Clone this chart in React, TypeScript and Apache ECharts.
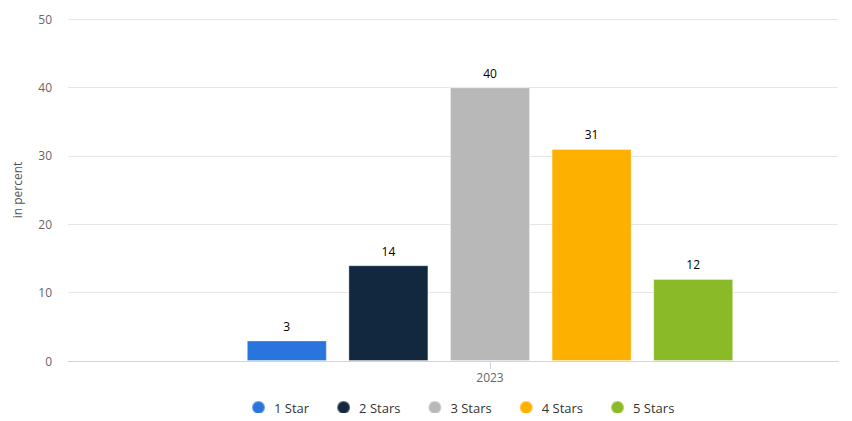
import React, { useEffect, useRef } from "react";
import * as echarts from "echarts";

const categories = ["2023"];
const seriesNames = ["1 Star", "2 Stars", "3 Stars", "4 Stars", "5 Stars"];
const seriesValues = [[3], [14], [40], [31], [12]];
const seriesColors = ["#2876dd", "#12283f", "#b8b8b8", "#feb000", "#8aba27"];
const yTicks = { min: 0, max: 50, interval: 10 };
const yAxisName = "in percent";

const FONT = "'Open Sans', 'Noto Sans', sans-serif";

export default function App() {
  const ref = useRef<HTMLDivElement>(null);
  useEffect(() => {
    if (!ref.current) return;
    const chart = echarts.init(ref.current, null, { renderer: "svg" });
    chart.setOption({
      animation: false,
      textStyle: { fontFamily: FONT },
      grid: [
        { left: 68, right: 14, top: 19, bottom: 60 },
        { left: 142, right: 14, top: 19, bottom: 60 },
      ],
      legend: {
        data: seriesNames,
        left: 246,
        bottom: 1,
        icon: "circle",
        itemWidth: 13,
        itemHeight: 13,
        itemGap: 27,
        textStyle: { fontFamily: FONT, fontSize: 13, color: "#333", padding: [0, 0, 0, 4] },
      },
      xAxis: [
        {
          type: "category",
          gridIndex: 0,
          data: categories,
          axisLine: { show: true, lineStyle: { color: "#ccd6eb" } },
          axisTick: { show: false },
          axisLabel: { show: false },
        },
        {
          type: "category",
          gridIndex: 1,
          data: categories,
          axisLine: { show: false },
          axisTick: { show: true, alignWithLabel: true, length: 8, lineStyle: { color: "#ccd6eb" } },
          axisLabel: { color: "#666", fontSize: 12, fontFamily: FONT, margin: 10 },
        },
      ],
      yAxis: [
        {
          type: "value",
          gridIndex: 0,
          min: yTicks.min,
          max: yTicks.max,
          interval: yTicks.interval,
          name: yAxisName,
          nameLocation: "middle",
          nameGap: 45,
          nameTextStyle: { color: "#555", fontSize: 12, fontFamily: FONT },
          axisLine: { show: false },
          axisTick: { show: false },
          axisLabel: { color: "#666", fontSize: 12, fontFamily: FONT, margin: 16 },
          splitLine: { lineStyle: { color: "#e6e6e6" } },
        },
        {
          type: "value",
          gridIndex: 1,
          min: yTicks.min,
          max: yTicks.max,
          interval: yTicks.interval,
          show: false,
          splitLine: { show: false },
        },
      ],
      series: seriesNames.map((name, i) => ({
        name,
        type: "bar",
        xAxisIndex: 1,
        yAxisIndex: 1,
        data: seriesValues[i],
        barWidth: 80,
        barGap: "27%",
        itemStyle: { color: seriesColors[i], borderColor: "rgba(255,255,255,0.35)", borderWidth: 1 },
        label: {
          show: true,
          position: "top",
          distance: 8,
          color: "#000",
          fontSize: 12,
          fontWeight: "normal",
          fontFamily: FONT,
        },
      })),
    });
    return () => chart.dispose();
  }, []);
  return <div ref={ref} style={{ width: 852, height: 421, margin: -8 }} />;
}
